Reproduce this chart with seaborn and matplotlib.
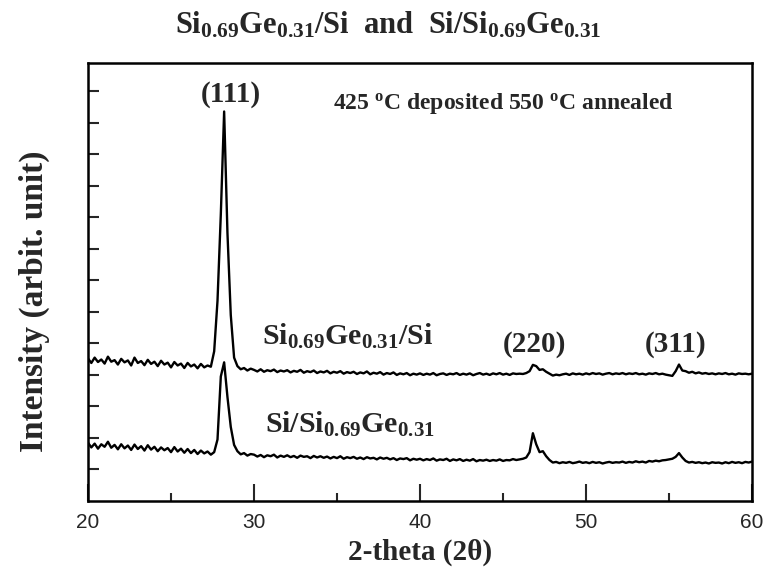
import numpy as np
import pandas as pd
import seaborn as sns
import matplotlib
matplotlib.use("Agg")
import matplotlib.pyplot as plt

# scan grid, 2-theta in degrees (0.2 deg step)
two_theta = np.round(np.arange(20.0, 60.01, 0.2), 1)

# Si0.69Ge0.31/Si (upper trace), one row per 2 degrees
sige_on_si = [
    4.52, 4.38, 4.55, 4.41, 4.49, 4.36, 4.58, 4.42, 4.47, 4.33,  # 20
    4.51, 4.40, 4.46, 4.30, 4.55, 4.38, 4.44, 4.31, 4.48, 4.35,  # 22
    4.42, 4.28, 4.45, 4.33, 4.39, 4.24, 4.41, 4.30, 4.36, 4.22,  # 24
    4.38, 4.27, 4.33, 4.21, 4.35, 4.24, 4.30, 4.26, 4.75, 6.35,  # 26
    9.10, 12.36, 8.50, 5.90, 4.55, 4.28, 4.18, 4.22, 4.14, 4.20,  # 28
    4.16, 4.11, 4.18, 4.10, 4.15, 4.12, 4.17, 4.09, 4.14, 4.11,  # 30
    4.15, 4.08, 4.13, 4.10, 4.16, 4.07, 4.12, 4.09, 4.14, 4.06,  # 32
    4.11, 4.08, 4.13, 4.05, 4.10, 4.07, 4.12, 4.04, 4.09, 4.06,  # 34
    4.10, 4.03, 4.08, 4.05, 4.11, 4.02, 4.07, 4.04, 4.09, 4.01,  # 36
    4.06, 4.03, 4.08, 4.00, 4.05, 4.02, 4.06, 3.99, 4.04, 4.01,  # 38
    4.05, 4.00, 4.04, 4.01, 4.06, 3.99, 4.03, 4.05, 4.00, 4.04,  # 40
    4.02, 4.06, 4.00, 4.04, 4.01, 4.05, 3.99, 4.03, 4.06, 4.01,  # 42
    4.04, 4.00, 4.05, 4.02, 4.06, 4.01, 4.04, 4.00, 4.05, 4.03,  # 44
    4.04, 4.03, 4.06, 4.12, 4.32, 4.28, 4.16, 4.18, 4.10, 4.04,  # 46
    3.98, 4.01, 3.99, 4.02, 4.04, 4.00, 4.05, 4.02, 4.04, 4.01,  # 48
    4.05, 4.02, 4.06, 4.03, 4.05, 4.01, 4.04, 4.06, 4.02, 4.05,  # 50
    4.03, 4.06, 4.02, 4.05, 4.03, 4.06, 4.02, 4.04, 4.01, 4.05,  # 52
    4.03, 4.06, 4.02, 4.04, 4.01, 3.99, 3.97, 4.12, 4.33, 4.14,  # 54
    4.12, 4.07, 4.10, 4.05, 4.08, 4.04, 4.06, 4.03, 4.05, 4.02,  # 56
    4.05, 4.03, 4.06, 4.02, 4.04, 4.01, 4.05, 4.03, 4.04, 4.02,  # 58
    4.04,                                                        # 60
]

# Si/Si0.69Ge0.31 (lower trace)
si_on_sige = [
    1.85, 1.70, 1.82, 1.66, 1.80, 1.72, 1.88, 1.69, 1.78, 1.64,  # 20
    1.80, 1.67, 1.76, 1.62, 1.79, 1.65, 1.74, 1.60, 1.77, 1.63,  # 22
    1.72, 1.58, 1.70, 1.61, 1.68, 1.55, 1.71, 1.57, 1.66, 1.53,  # 24
    1.65, 1.52, 1.62, 1.49, 1.60, 1.51, 1.57, 1.47, 1.55, 1.95,  # 26
    3.95, 4.40, 3.30, 2.35, 1.78, 1.58, 1.48, 1.52, 1.44, 1.49,  # 28
    1.47, 1.41, 1.46, 1.39, 1.45, 1.42, 1.47, 1.38, 1.44, 1.40,  # 30
    1.45, 1.39, 1.43, 1.37, 1.44, 1.40, 1.42, 1.36, 1.43, 1.38,  # 32
    1.42, 1.37, 1.41, 1.35, 1.40, 1.36, 1.42, 1.34, 1.39, 1.36,  # 34
    1.40, 1.34, 1.38, 1.33, 1.39, 1.35, 1.37, 1.32, 1.38, 1.34,  # 36
    1.37, 1.32, 1.36, 1.30, 1.35, 1.33, 1.36, 1.29, 1.34, 1.31,  # 38
    1.34, 1.29, 1.33, 1.30, 1.35, 1.28, 1.32, 1.30, 1.34, 1.27,  # 40
    1.32, 1.29, 1.33, 1.27, 1.31, 1.28, 1.33, 1.26, 1.30, 1.28,  # 42
    1.31, 1.27, 1.30, 1.28, 1.32, 1.27, 1.30, 1.29, 1.33, 1.30,  # 44
    1.32, 1.34, 1.38, 1.55, 2.15, 1.80, 1.55, 1.58, 1.42, 1.30,  # 46
    1.22, 1.24, 1.20, 1.23, 1.21, 1.24, 1.20, 1.22, 1.25, 1.21,  # 48
    1.23, 1.20, 1.24, 1.21, 1.23, 1.19, 1.22, 1.24, 1.21, 1.23,  # 50
    1.22, 1.25, 1.21, 1.24, 1.22, 1.26, 1.23, 1.25, 1.22, 1.27,  # 52
    1.25, 1.28, 1.26, 1.29, 1.30, 1.32, 1.34, 1.40, 1.52, 1.38,  # 54
    1.27, 1.22, 1.24, 1.21, 1.23, 1.20, 1.22, 1.19, 1.23, 1.21,  # 56
    1.22, 1.19, 1.23, 1.20, 1.24, 1.21, 1.23, 1.20, 1.24, 1.22,  # 58
    1.25,                                                        # 60
]

# peak labels
peak_names = ["(111)", "(220)", "(311)"]
peak_pos = [28.6, 46.9, 55.4]
peak_lab_y = [12.9, 4.98, 4.98]

df = pd.DataFrame({"two_theta": two_theta, "top": sige_on_si, "bottom": si_on_sige})

sns.set_theme(style="white")
plt.rcParams['font.family'] = ['Liberation Serif', 'DejaVu Serif']
plt.rcParams['mathtext.fontset'] = 'custom'
plt.rcParams['mathtext.rm'] = 'Liberation Serif:bold'
plt.rcParams['mathtext.bf'] = 'Liberation Serif:bold'
plt.rcParams['mathtext.it'] = 'Liberation Serif:bold:italic'

fig = plt.figure(figsize=(7.68, 5.82), dpi=100)
ax = fig.add_axes([0.1146, 0.1392, 0.8646, 0.7526])

sns.lineplot(data=df, x="two_theta", y="top", ax=ax, color="black", lw=1.7, estimator=None)
sns.lineplot(data=df, x="two_theta", y="bottom", ax=ax, color="black", lw=1.7, estimator=None)

ax.set_xlim(20, 60)
ax.set_ylim(0, 13.9)
ax.set_xticks([20, 30, 40, 50, 60])
ax.set_xticks([25, 35, 45, 55], minor=True)
ax.set_yticks(range(1, 14))
ax.set_yticklabels([])
ax.tick_params(axis='x', which='major', direction='in', length=12, width=1.5, bottom=True,
               labelsize=15, pad=9)
ax.tick_params(axis='x', which='minor', direction='in', length=6, width=1.5, bottom=True)
ax.tick_params(axis='y', which='major', direction='in', length=8, width=1.5, left=True)
for lab in ax.get_xticklabels():
    lab.set_family(['Liberation Sans', 'DejaVu Sans'])
for sp in ax.spines.values():
    sp.set_color('black')
    sp.set_linewidth(1.8)

ax.set_xlabel("2-theta (2θ)", fontsize=21, fontweight='bold')
ax.xaxis.set_label_coords(0.5, -0.085)
ax.set_ylabel("Intensity (arbit. unit)", fontsize=24, fontweight='bold')
ax.yaxis.set_label_coords(-0.057, 0.457)

for name, xp, yp in zip(peak_names, peak_pos, peak_lab_y):
    ax.text(xp, yp, name, ha='center', va='center', fontsize=21, fontweight='bold')

ax.text(34.76, 12.6, r"425 $^{\rm o}$C deposited 550 $^{\rm o}$C annealed", ha='left', va='center',
        fontsize=17, fontweight='bold')
ax.text(30.5, 4.95, r"Si$_{0.69}$Ge$_{0.31}$/Si", ha='left', va='baseline', fontsize=21.5,
        fontweight='bold')
ax.text(30.66, 2.16, r"Si/Si$_{0.69}$Ge$_{0.31}$", ha='left', va='baseline', fontsize=21.5,
        fontweight='bold')

fig.text(388 / 768, 1 - 25 / 582, r"Si$_{0.69}$Ge$_{0.31}$/Si  and  Si/Si$_{0.69}$Ge$_{0.31}$",
         ha='center', va='center', fontsize=22, fontweight='bold')

fig.savefig("out.png", dpi=100)
